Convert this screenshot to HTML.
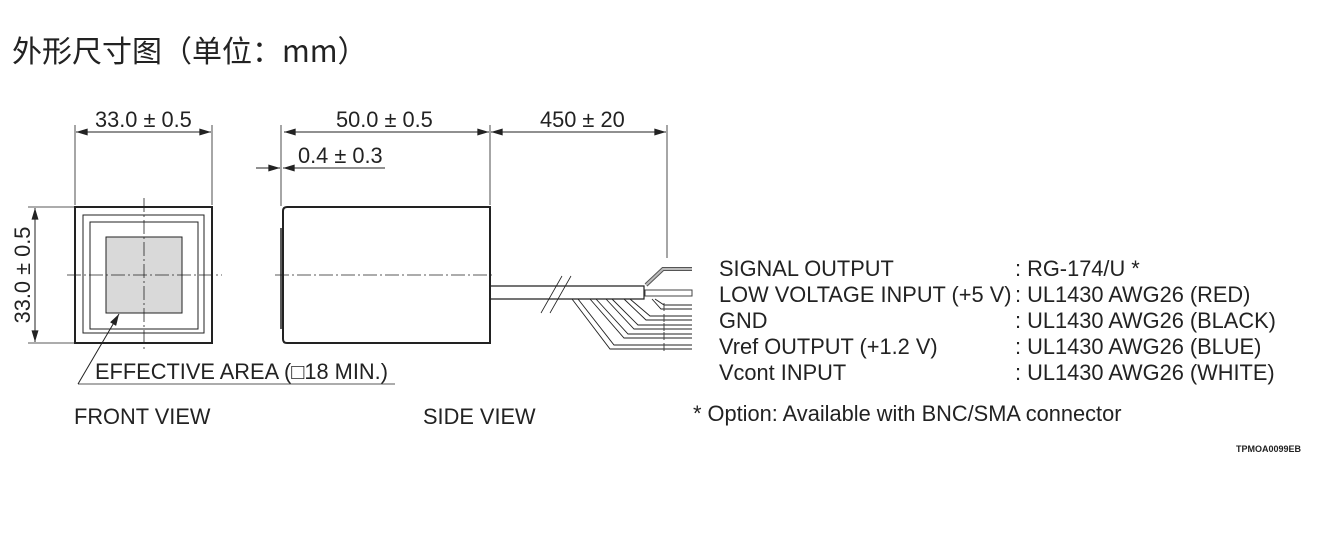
<!DOCTYPE html>
<html><head><meta charset="utf-8"><style>
body{margin:0;background:#fff;width:1319px;height:550px;overflow:hidden}
svg{display:block}
text{font-family:"Liberation Sans","Noto Sans CJK SC",sans-serif;fill:#222}
</style></head><body>
<svg width="1319" height="550" viewBox="0 0 1319 550">
<defs>
<marker id="a" viewBox="0 0 10 6" refX="10" refY="3" markerWidth="16" markerHeight="7" markerUnits="userSpaceOnUse" orient="auto"><path d="M0,0L10,3L0,6z" fill="#222"/></marker>
</defs>
<text x="12" y="62" font-size="30" style="font-family:'Noto Sans CJK SC','Liberation Sans',sans-serif">外形尺寸图（单位：mm）</text>
<g stroke="#222" fill="none">
<rect x="75" y="207" width="137" height="136" stroke-width="2"/>
<rect x="83" y="215" width="121" height="118" stroke-width="1"/>
<rect x="90" y="222" width="108" height="107" stroke-width="1"/>
<rect x="106" y="237" width="76" height="76" fill="#d9d9d9" stroke-width="1"/>
<path d="M67 275H222M144 198V352" stroke-width="0.8" stroke-dasharray="14,3,2,3"/>
<path d="M75 125V205M212 125V205" stroke-width="0.8"/>
<path d="M144 132H76" stroke-width="1" marker-end="url(#a)"/>
<path d="M144 132H211" stroke-width="1" marker-end="url(#a)"/>
<path d="M28 207H75M28 343H75" stroke-width="0.8"/>
<path d="M35 275V208" stroke-width="1" marker-end="url(#a)"/>
<path d="M35 275V342" stroke-width="1" marker-end="url(#a)"/>
<path d="M78 384H395" stroke-width="0.8"/>
<path d="M78 384L119 314" stroke-width="1" marker-end="url(#a)"/>
<path d="M287 207H490V343H287Q283 343 283 339V211Q283 207 287 207Z" stroke-width="2"/>
<path d="M281 228V329" stroke-width="1.5"/>
<path d="M275 275H495" stroke-width="0.8" stroke-dasharray="14,3,2,3"/>
<path d="M281 125V206M490 125V205M667 125V258" stroke-width="0.8"/>
<path d="M386 132H284" stroke-width="1" marker-end="url(#a)"/>
<path d="M386 132H489" stroke-width="1" marker-end="url(#a)"/>
<path d="M578 132H491" stroke-width="1" marker-end="url(#a)"/>
<path d="M578 132H666" stroke-width="1" marker-end="url(#a)"/>
<path d="M256 168H280" stroke-width="1" marker-end="url(#a)"/>
<path d="M385 168H283" stroke-width="1" marker-end="url(#a)"/>
<path d="M490 286H644V299H490" stroke-width="1.2"/>
<path d="M541 313L562 276M550 313L571 276" stroke-width="0.8"/>
<path d="M646 285L663 269H692" stroke="#555" stroke-width="4"/>
<path d="M646 285L663 269H692" stroke="#bbb" stroke-width="2"/>
<rect x="645" y="290" width="47" height="6" stroke-width="1" stroke="#444"/>
<g stroke-width="0.9">
<path d="M655 299L664 305H692M652 299L661 309H692"/>
<path d="M630 299L650 316H692M624 299L646 320H692"/>
<path d="M612 299L638 325H692M606 299L634 329H692"/>
<path d="M596 299L628 334H692M590 299L624 338H692"/>
<path d="M578 299L614 345H692M572 299L610 349H692"/>
</g>
<g stroke="#444" stroke-width="1">
<path d="M664 303V311M664 314V322M664 323V331M664 332V340M664 343V351"/>
</g>
</g>
<g font-size="21.8">
<text x="95" y="127">33.0 ± 0.5</text>
<text transform="translate(30,275) rotate(-90)" text-anchor="middle">33.0 ± 0.5</text>
<text x="95" y="379">EFFECTIVE AREA (□18 MIN.)</text>
<text x="336" y="127">50.0 ± 0.5</text>
<text x="540" y="127">450 ± 20</text>
<text x="298" y="163">0.4 ± 0.3</text>
<text x="74" y="424">FRONT VIEW</text>
<text x="423" y="424">SIDE VIEW</text>
</g>
<g font-size="21.8">
<text x="719" y="276">SIGNAL OUTPUT</text>
<text x="719" y="302">LOW VOLTAGE INPUT (+5 V)</text>
<text x="719" y="328">GND</text>
<text x="719" y="354">Vref OUTPUT (+1.2 V)</text>
<text x="719" y="380">Vcont INPUT</text>
<text x="1015" y="276">: RG-174/U *</text>
<text x="1015" y="302">: UL1430 AWG26 (RED)</text>
<text x="1015" y="328">: UL1430 AWG26 (BLACK)</text>
<text x="1015" y="354">: UL1430 AWG26 (BLUE)</text>
<text x="1015" y="380">: UL1430 AWG26 (WHITE)</text>
</g>
<text x="693" y="421" font-size="21.8">* Option: Available with BNC/SMA connector</text>
<text x="1236" y="452" font-size="9" font-weight="bold">TPMOA0099EB</text>
</svg>
</body></html>
